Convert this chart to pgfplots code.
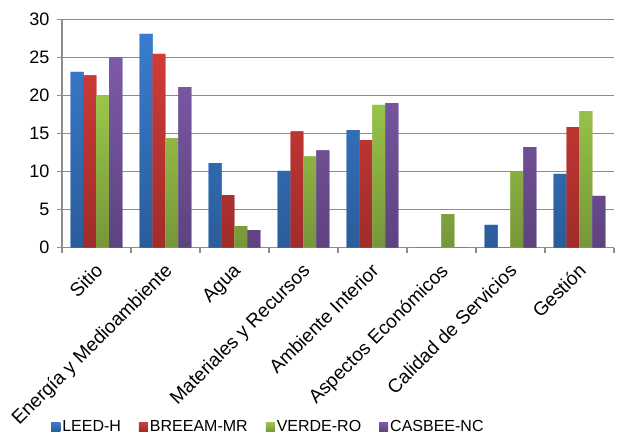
\documentclass[border=0pt]{standalone}
\usepackage{pgfplots}
\pgfplotsset{compat=1.18}
\usepackage{fontspec}
\setmainfont{Liberation Sans}
\definecolor{bluetop}{HTML}{3A7CCF}\definecolor{bluebot}{HTML}{2B5C99}
\definecolor{redtop}{HTML}{CF3B38}\definecolor{redbot}{HTML}{A02C2A}
\definecolor{greentop}{HTML}{9BC54A}\definecolor{greenbot}{HTML}{77963A}
\definecolor{purtop}{HTML}{7D5AA8}\definecolor{purbot}{HTML}{5D437E}
\definecolor{gridgray}{HTML}{8C8C8C}
\begin{document}
\begin{tikzpicture}
\useasboundingbox (-46.5pt,-141.2pt) rectangle (417pt,185.8pt);
\begin{axis}[
  at={(0,0)}, anchor=south west,
  scale only axis, width=414pt, height=171.3pt,
  ybar=0pt, bar width=0.188,
  xmin=-0.5, xmax=7.5, ymin=0, ymax=30,
  ytick={0,5,...,30},
  xtick={0,...,7},
  xticklabels={Sitio, Energía y Medioambiente, Agua, Materiales y Recursos, Ambiente Interior, Aspectos Económicos, Calidad de Servicios, Gestión},
  minor xtick={-0.5,0.5,...,7.5},
  major x tick style={draw=none},
  tick align=outside,
  major tick length=4pt, minor tick length=4pt,
  tick style={gridgray, line width=0.9pt},
  axis lines*=left,
  axis line style={gridgray, line width=1pt},
  ymajorgrids, grid style={gridgray, line width=1.1pt},
  every axis plot/.append style={draw=none},
  /pgf/number format/assume math mode=true,
  yticklabel style={xshift=-2pt, font=\fontsize{13.5}{15}\selectfont},
  xticklabel style={rotate=45, anchor=north east, font=\fontsize{14.3}{16}\selectfont, xshift=-5pt, yshift=-2.5pt, inner sep=1pt},
  legend columns=4,
  legend style={at={(0.374,-0.785)}, anchor=center, draw=none, fill=none,
    font=\fontsize{12}{14}\selectfont,
    /tikz/every even column/.append style={column sep=12pt},
    nodes={inner sep=1.5pt}},
  legend image code/.code={\fill[#1] (0pt,-3.4pt) rectangle (6.75pt,3.4pt);},
]
\addplot[top color=bluetop, bottom color=bluebot, fill=bluetop] coordinates {(0,23.1) (1,28.1) (2,11.1) (3,10.1) (4,15.45) (5,0) (6,3.0) (7,9.7)};
\addplot[top color=redtop, bottom color=redbot, fill=redtop] coordinates {(0,22.65) (1,25.45) (2,6.9) (3,15.3) (4,14.15) (5,0) (6,0) (7,15.85)};
\addplot[top color=greentop, bottom color=greenbot, fill=greentop] coordinates {(0,20.0) (1,14.4) (2,2.85) (3,12.0) (4,18.75) (5,4.4) (6,9.95) (7,17.95)};
\addplot[top color=purtop, bottom color=purbot, fill=purtop] coordinates {(0,25.0) (1,21.1) (2,2.3) (3,12.8) (4,19.0) (5,0) (6,13.2) (7,6.8)};
\legend{LEED-H, BREEAM-MR, VERDE-RO, CASBEE-NC}
\end{axis}
\end{tikzpicture}
\end{document}
